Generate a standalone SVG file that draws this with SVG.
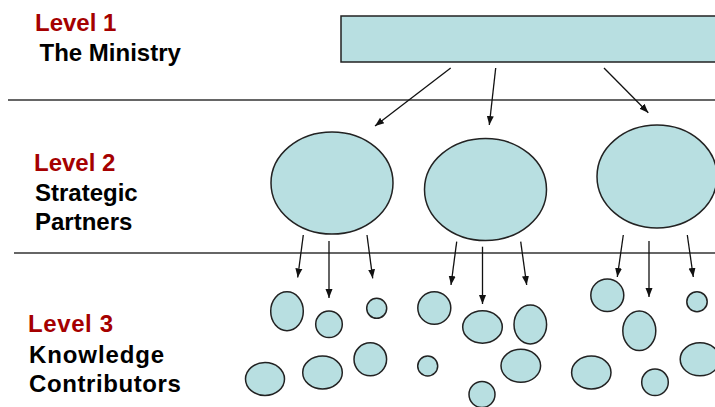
<svg xmlns="http://www.w3.org/2000/svg" width="715" height="407" viewBox="0 0 715 407">
<style>
.lvl{font-family:"Liberation Sans",Arial,sans-serif;font-weight:bold;font-size:24px;fill:#A50000}
.lbl{font-family:"Liberation Sans",Arial,sans-serif;font-weight:bold;font-size:24px;fill:#000}
.node{fill:#B8DFE1;stroke:#222;stroke-width:1.5}
.sep{stroke:#333;stroke-width:1.3}
.arr{stroke:#111;stroke-width:1.3;fill:none;marker-end:url(#ah)}
</style>
<defs>
<marker id="ah" markerUnits="userSpaceOnUse" markerWidth="10" markerHeight="10" viewBox="0 0 10 10" refX="9" refY="5" orient="auto">
<path d="M0,1.5 L9,5 L0,8.5 Z" fill="#111"/>
</marker>
</defs>
<g id="labels">
<text class="lvl" x="35" y="31">Level 1</text>
<text class="lbl" x="39.5" y="61">The Ministry</text>
<text class="lvl" x="34" y="171">Level 2</text>
<text class="lbl" x="35" y="201">Strategic</text>
<text class="lbl" x="35" y="230">Partners</text>
<text class="lvl" x="28" y="332" letter-spacing="0.6">Level 3</text>
<text class="lbl" x="29" y="363" letter-spacing="0.9">Knowledge</text>
<text class="lbl" x="29" y="392" letter-spacing="0.6">Contributors</text>
</g>
<g id="separators">
<line class="sep" x1="8" y1="100" x2="715" y2="100"/>
<line class="sep" x1="14" y1="253" x2="715" y2="253"/>
</g>
<g id="ministry"><rect class="node" x="341" y="16" width="380" height="46"/></g>
<g id="partner1"><ellipse class="node" cx="332" cy="183" rx="61" ry="51"/></g>
<g id="partner2"><ellipse class="node" cx="485.5" cy="189.5" rx="61" ry="51"/></g>
<g id="partner3"><ellipse class="node" cx="657" cy="176.5" rx="60" ry="51.5"/></g>
<g id="contributors">
<ellipse id="c1" class="node" cx="287" cy="311.3" rx="16.3" ry="19.5"/>
<ellipse id="c2" class="node" cx="329" cy="324.3" rx="13.3" ry="13.3"/>
<ellipse id="c3" class="node" cx="376.7" cy="308.3" rx="10" ry="10"/>
<ellipse id="c4" class="node" cx="434.3" cy="308" rx="16.5" ry="16.3"/>
<ellipse id="c5" class="node" cx="482.5" cy="327" rx="19.8" ry="16.2"/>
<ellipse id="c6" class="node" cx="265" cy="379" rx="19.5" ry="16.5"/>
<ellipse id="c7" class="node" cx="322.5" cy="372.5" rx="19.8" ry="16.5"/>
<ellipse id="c8" class="node" cx="370.3" cy="359.3" rx="16.3" ry="16.5"/>
<ellipse id="c9" class="node" cx="427.7" cy="366" rx="10" ry="10"/>
<ellipse id="c10" class="node" cx="482" cy="394.5" rx="13" ry="13"/>
<ellipse id="c11" class="node" cx="530.3" cy="324.5" rx="16.3" ry="19.5"/>
<ellipse id="c12" class="node" cx="520.8" cy="365.8" rx="19.8" ry="16.5"/>
<ellipse id="c13" class="node" cx="607.3" cy="295.3" rx="16.5" ry="16.3"/>
<ellipse id="c14" class="node" cx="639.3" cy="330.8" rx="16.5" ry="19.8"/>
<ellipse id="c15" class="node" cx="697" cy="301.7" rx="10.2" ry="10"/>
<ellipse id="c16" class="node" cx="591.3" cy="372.5" rx="19.7" ry="16.5"/>
<ellipse id="c17" class="node" cx="655" cy="382.3" rx="13.3" ry="13.3"/>
<ellipse id="c18" class="node" cx="700" cy="359.3" rx="19.8" ry="16.5"/>
</g>
<g id="connectors">
<line class="arr" x1="450.7" y1="68" x2="375" y2="126"/>
<line class="arr" x1="495.7" y1="68" x2="489.3" y2="125"/>
<line class="arr" x1="604" y1="68" x2="648.3" y2="112.7"/>
<line class="arr" x1="303.3" y1="235" x2="297.7" y2="277.5"/>
<line class="arr" x1="329" y1="241" x2="329" y2="298"/>
<line class="arr" x1="367" y1="235" x2="372.7" y2="278.3"/>
<line class="arr" x1="456.7" y1="241.7" x2="451" y2="285"/>
<line class="arr" x1="482.5" y1="246.7" x2="482.5" y2="304"/>
<line class="arr" x1="520.7" y1="241.7" x2="526.7" y2="285"/>
<line class="arr" x1="623.3" y1="235" x2="617.3" y2="277"/>
<line class="arr" x1="649" y1="241" x2="649" y2="297"/>
<line class="arr" x1="687.3" y1="235" x2="693.3" y2="277"/>
</g>
</svg>
